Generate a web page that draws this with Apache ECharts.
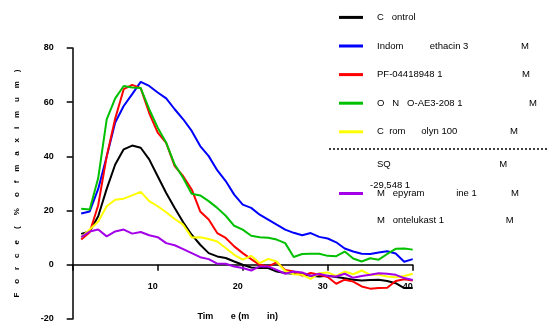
<!DOCTYPE html>
<html>
<head>
<meta charset="utf-8">
<script src="https://cdn.jsdelivr.net/npm/echarts@6/dist/echarts.min.js"></script>
<style>
  html, body { margin: 0; padding: 0; background: #fff; }
  #chart { width: 547px; height: 321px; }
</style>
</head>
<body>
<div id="chart"></div>
<script>
// time in minutes
var minutes = [];
for (var t = 1; t <= 40; t++) minutes.push(t);

var control = [11.4, 12.3, 17.9, 28, 37, 42.6, 44, 43.2, 38.9, 32.7, 26.5, 21, 15.7, 11.1, 7.4, 4.3, 3.1, 2.5, 1.2, 0,
    -1, -1.2, -1.2, -2.5, -3, -3.3, -3.5, -4, -4.3, -4, -4.5, -5, -5.5, -5.8, -5.6, -5.5, -6, -6.8, -8.6, -8.6];
var indomethacin = [18.9, 19.7, 28, 40, 52.5, 58.6, 63, 67.5, 66, 63.6, 61.4, 57.4, 53.7, 49.4, 43.8, 40.1, 34.9, 30.9, 25.9, 22.2,
    21, 18.5, 16.7, 14.8, 13, 11.8, 10.9, 11.7, 10.3, 9.7, 8.3, 6, 4.9, 4.1, 4, 4.5, 5, 4.2, 1.1, 2.1];
var pf04418948 = [9.3, 12, 22, 40, 54, 64.8, 66.4, 65.2, 56, 48.8, 45, 36.4, 32.7, 27.8, 19.7, 16.7, 11.7, 9.9, 6.8, 4.3,
    2.1, 0, -0.6, 0.9, -1.9, -2.5, -4, -3, -3.7, -4.5, -7, -5.5, -6.2, -8, -8.8, -8.6, -8.5, -6, -5.3, -5.8];
var onoAe3208 = [20.7, 20.4, 32, 53.7, 61.4, 66, 65.4, 65.2, 57.4, 50.6, 45, 37, 32, 26.2, 25.6, 23.5, 21, 18.1, 14.4, 13,
    10.7, 10.2, 10, 9.3, 8, 2.9, 4, 4.1, 4.1, 3.3, 3.2, 4.9, 2.3, 1.2, 2.4, 1.9, 4, 5.9, 6, 5.6];
var cromolyn = [10.2, 13, 16, 21.6, 24, 24.4, 25.6, 26.9, 23.5, 21.6, 19.4, 16.9, 14.8, 10.1, 10.2, 9.5, 8.6, 6.2, 3.7, 1.9,
    3.3, 0.6, 2.2, 1.2, -2.3, -3.5, -3.7, -5.2, -3.1, -2.8, -4.1, -2.5, -3.5, -2.1, -3.7, -3.7, -4.3, -4.6, -4.1, -3.3];
var mepyramine = [10.2, 12.3, 13, 10.5, 12.3, 13, 11.5, 12.1, 10.9, 10.2, 8, 7.2, 5.8, 4.3, 2.8, 2.1, 0.4, 0.4, -0.6, -1.2,
    -2.1, -0.6, -0.6, -1.9, -3.3, -2.5, -2.8, -4.1, -3.3, -4.1, -4.3, -3.3, -4.8, -4.1, -3.7, -3.1, -3.3, -3.7, -4.9, -5.6];

var seriesNames = ["Control", "Indomethacin", "PF-04418948", "ONO-AE3-208", "Cromolyn", "Mepyramine"];
var seriesData = [control, indomethacin, pf04418948, onoAe3208, cromolyn, mepyramine];
var seriesColors = ["#000000", "#0000ff", "#ff0000", "#00c000", "#ffff00", "#a300e8"];
// legend text as printed (the micro signs are missing in the original)
var legendText = [
    ["C   ontrol", ""],
    ["Indom          ethacin 3", "M"],
    ["PF-04418948 1", "M"],
    ["O   N   O-AE3-208 1", "M"],
    ["C  rom      olyn 100", "M"],
    ["M   epyram            ine 1", "M"]
];
var legendTextWidth = [140, 144, 145, 152, 133, 134];

var yTicks = { min: -20, max: 80, step: 20 };
var xTicks = { min: 0, max: 40, step: 10 };

var gridTop = 48, gridBottom = 2, chartHeight = 321;
// lift the x axis up to y = 0
var xAxisOffset = -(0 - yTicks.min) / (yTicks.max - yTicks.min) * (chartHeight - gridTop - gridBottom);

var rich = { m: { fontSize: 9.5, color: "#000" } };
legendText.forEach(function(p, i) {
    rich["w" + i] = { width: legendTextWidth[i], fontSize: 9.5, color: "#000" };
});

function legendFormatter(name) {
    var i = seriesNames.indexOf(name);
    return "{w" + i + "|" + legendText[i][0] + "}{m|" + legendText[i][1] + "}";
}

var series = seriesData.map(function(vals, i) {
    return {
        name: seriesNames[i],
        type: "line",
        data: vals.map(function(v, k) { return [minutes[k], v]; }),
        symbol: "none",
        lineStyle: { color: seriesColors[i], width: 2 },
        itemStyle: { color: seriesColors[i] },
        animation: false
    };
});

var legendBase = {
    orient: "vertical",
    left: 334,
    icon: "rect",
    itemWidth: 24,
    itemHeight: 3,
    itemGap: 14.6,
    selectedMode: false,
    formatter: legendFormatter,
    textStyle: {
        fontFamily: "Liberation Sans, Arial, sans-serif",
        fontSize: 9.5,
        color: "#000",
        lineHeight: 14,
        padding: [0, 0, 0, 9],
        rich: rich
    }
};

var chart = echarts.init(document.getElementById("chart"));
chart.setOption({
    backgroundColor: "#fff",
    animation: false,
    textStyle: { fontFamily: "Liberation Sans, Arial, sans-serif" },
    grid: { left: 72.7, right: 134.3, top: gridTop, bottom: gridBottom, containLabel: false, outerBoundsMode: "none" },
    legend: [
        Object.assign({}, legendBase, { top: 5.4, data: seriesNames.slice(0, 5) }),
        Object.assign({}, legendBase, { top: 181.5, data: [seriesNames[5]] })
    ],
    xAxis: {
        type: "value",
        min: xTicks.min,
        max: xTicks.max,
        interval: xTicks.step,
        offset: xAxisOffset,
        name: "Tim       e (m       in)",
        nameLocation: "middle",
        nameGap: 47,
        nameTextStyle: { fontSize: 9, fontWeight: "bold", color: "#000", padding: [0, 10, 0, 0] },
        axisLine: { onZero: false, lineStyle: { color: "#000", width: 1.5 } },
        axisTick: { length: 6, lineStyle: { color: "#000", width: 1.5 } },
        axisLabel: {
            fontSize: 9, fontWeight: "bold", color: "#000", margin: 17, align: "right",
            formatter: function(v) { return v === 0 ? "" : v; }
        },
        splitLine: { show: false }
    },
    yAxis: {
        type: "value",
        min: yTicks.min,
        max: yTicks.max,
        interval: yTicks.step,
        name: "F    o    r    c    e     (     %     o    f    m    a    x    i    m    u    m    )",
        nameLocation: "middle",
        nameGap: 52,
        nameTextStyle: { fontSize: 8, fontWeight: "bold", color: "#000" },
        axisLine: { show: true, onZero: false, lineStyle: { color: "#000", width: 1.5 } },
        axisTick: { length: 6, lineStyle: { color: "#000", width: 1.5 } },
        axisLabel: { fontSize: 9, fontWeight: "bold", color: "#000", margin: 19 },
        splitLine: { show: false }
    },
    graphic: [
        { type: "line", shape: { x1: 329, y1: 149, x2: 547, y2: 149 },
          style: { stroke: "#000", lineWidth: 1.5, lineDash: [2, 2] } },
        { type: "text", left: 377, top: 159, style: { text: "SQ", font: "9.5px Liberation Sans, Arial, sans-serif", fill: "#000" } },
        { type: "text", left: 499.3, top: 159, style: { text: "M", font: "9.5px Liberation Sans, Arial, sans-serif", fill: "#000" } },
        { type: "text", left: 370, top: 180.5, style: { text: "-29,548 1", font: "9.5px Liberation Sans, Arial, sans-serif", fill: "#000" } },
        { type: "text", left: 377, top: 215.5, style: { text: "M   ontelukast 1", font: "9.5px Liberation Sans, Arial, sans-serif", fill: "#000" } },
        { type: "text", left: 505.7, top: 215.5, style: { text: "M", font: "9.5px Liberation Sans, Arial, sans-serif", fill: "#000" } }
    ],
    series: series
});
</script>
</body>
</html>
